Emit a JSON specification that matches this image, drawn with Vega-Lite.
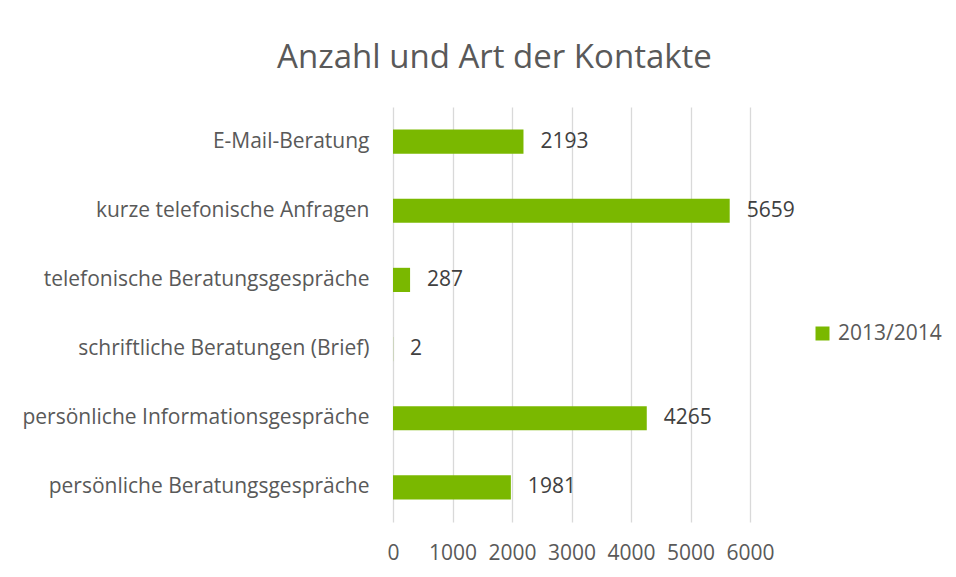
{
  "$schema": "https://vega.github.io/schema/vega-lite/v6.json",
  "width": 357,
  "height": 415,
  "autosize": {"type": "none"},
  "padding": {"left": 393, "top": 107, "right": 206, "bottom": 55},
  "background": "white",
  "title": {
    "text": "Anzahl und Art der Kontakte",
    "anchor": "middle",
    "frame": "group",
    "dx": -77,
    "offset": 32,
    "fontSize": 33,
    "font": "Open Sans",
    "fontWeight": "normal",
    "color": "#595959"
  },
  "data": {
    "values": [
      {"kategorie": "E-Mail-Beratung", "anzahl": 2193, "jahr": "2013/2014"},
      {"kategorie": "kurze telefonische Anfragen", "anzahl": 5659, "jahr": "2013/2014"},
      {"kategorie": "telefonische Beratungsgespräche", "anzahl": 287, "jahr": "2013/2014"},
      {"kategorie": "schriftliche Beratungen (Brief)", "anzahl": 2, "jahr": "2013/2014"},
      {"kategorie": "persönliche Informationsgespräche", "anzahl": 4265, "jahr": "2013/2014"},
      {"kategorie": "persönliche Beratungsgespräche", "anzahl": 1981, "jahr": "2013/2014"}
    ]
  },
  "encoding": {
    "y": {
      "field": "kategorie",
      "type": "nominal",
      "sort": null,
      "scale": {"paddingInner": 0.65, "paddingOuter": 0.325},
      "axis": {
        "title": null,
        "domain": false,
        "ticks": false,
        "labelPadding": 24,
        "labelFontSize": 21,
        "labelFont": "Open Sans",
        "labelColor": "#595959",
        "labelLimit": 400
      }
    },
    "x": {
      "field": "anzahl",
      "type": "quantitative",
      "scale": {"domain": [0, 6000], "nice": false},
      "axis": {
        "title": null,
        "values": [0, 1000, 2000, 3000, 4000, 5000, 6000],
        "format": "d",
        "domain": false,
        "ticks": false,
        "grid": true,
        "gridColor": "#D9D9D9",
        "gridWidth": 1.3,
        "labelPadding": 20,
        "labelFontSize": 21,
        "labelFont": "Open Sans",
        "labelColor": "#595959",
        "labelFlush": false
      }
    }
  },
  "layer": [
    {
      "mark": {"type": "bar", "color": "#7AB800"},
      "encoding": {
        "color": {
          "field": "jahr",
          "type": "nominal",
          "scale": {"range": ["#7AB800"]},
          "legend": {
            "title": null,
            "orient": "none",
            "legendX": 419,
            "legendY": 216,
            "symbolType": "square",
            "symbolSize": 196,
            "symbolStrokeWidth": 0,
            "labelFontSize": 21,
            "labelFont": "Open Sans",
            "labelColor": "#595959",
            "labelOffset": 5
          }
        }
      }
    },
    {
      "mark": {"type": "text", "align": "left", "dx": 17, "fontSize": 21, "font": "Open Sans", "color": "#404040"},
      "encoding": {"text": {"field": "anzahl", "type": "quantitative", "format": "d"}}
    }
  ],
  "config": {"view": {"stroke": null}}
}
